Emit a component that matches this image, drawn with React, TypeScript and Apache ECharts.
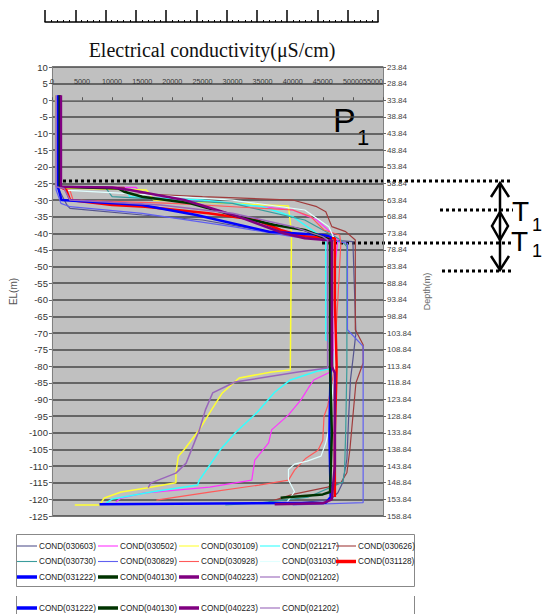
import React, { useEffect, useRef } from "react";
import * as echarts from "echarts";

// ---- data: [conductivity (µS/cm), EL (m)] ----
const cond030603 = [[900,1.5],[900,-26],[2500,-31.5],[3000,-32.5],[15000,-34.5],[25000,-36],[33000,-38.5],[40000,-40.5],[46000,-42],[50000,-42.5],[50500,-70],[50000,-78],[49600,-84],[49300,-95],[49000,-108],[48600,-112],[48300,-115],[47500,-118],[46300,-120],[40000,-121.3]];
const cond030502 = [[800,1.5],[800,-26],[14000,-26.2],[15000,-29],[30000,-31],[40000,-33],[44000,-36],[46500,-40],[47500,-42],[47000,-50],[46800,-80],[46500,-81.5],[43500,-84.1],[42600,-86.5],[41400,-90],[39300,-94.6],[36500,-99.1],[36000,-103],[33700,-108.2],[33200,-114.2],[26200,-116.3],[15200,-118.1],[11500,-119.6],[10600,-120.8]];
const cond030109 = [[600,1.6],[700,-25.5],[1600,-26.4],[15700,-27],[16900,-30],[39300,-31.8],[39800,-39.9],[39600,-81.1],[36500,-81.7],[31100,-83.5],[28300,-88],[26200,-94],[24500,-99],[22000,-105],[21000,-107],[20600,-112],[20600,-115],[15700,-116.6],[11500,-117.8],[8700,-119.6],[7900,-121.7],[3800,-121.7]];
const cond021217 = [[900,1.5],[900,-26],[12000,-26.5],[13000,-29],[25000,-30],[35000,-32],[40000,-35],[44000,-40],[45500,-42],[45500,-72],[46500,-73],[46800,-80.5],[44000,-81.5],[39500,-84.2],[37000,-87.8],[34000,-94],[30500,-99.9],[28000,-105],[24500,-114.2],[24200,-115.7],[16500,-117.8],[10000,-119.9],[9000,-121.1]];
const cond030626 = [[1100,1.5],[1100,-26],[12000,-26.2],[12500,-28],[25000,-29],[40000,-30],[44000,-32],[45500,-33.5],[46500,-38],[48800,-39.5],[50400,-42],[50400,-69],[51700,-73.5],[51700,-79],[50500,-85],[50000,-95],[49500,-105],[49000,-112],[48000,-115],[45800,-116.3],[40000,-118.5],[36000,-120.8]];
const cond030730 = [[900,1.5],[900,-26],[9000,-26.5],[10000,-29],[30000,-31],[42000,-36],[46000,-40],[48000,-42],[49000,-44],[49000,-80],[48800,-100],[48600,-112],[48300,-114.8],[42600,-119.3],[35000,-121],[28800,-121.7]];
const cond030829 = [[700,1.5],[700,-27],[1500,-31],[3000,-32],[15000,-34],[30000,-38],[40000,-41],[46000,-42],[49100,-43],[49100,-69],[51700,-74],[51700,-121],[40000,-121.7]];
const cond030928 = [[1000,1.5],[1000,-26],[3000,-27],[3500,-30],[20000,-31],[40000,-33],[43000,-35],[45200,-39],[47800,-40.5],[48000,-43],[47500,-60],[47000,-75],[46800,-82],[46300,-87],[45800,-92],[45200,-95],[45000,-102.2],[44200,-105.2],[42200,-107.6],[40300,-111.2],[39300,-114.2],[34400,-115.7],[26200,-117.8],[17350,-120.2]];
const cond031030 = [[800,1.5],[800,-26],[2000,-27],[12000,-28],[30000,-30],[42000,-33],[46000,-38],[47000,-42],[47000,-80],[46500,-90],[46000,-99],[45500,-103],[44700,-107],[42400,-108.5],[40300,-109.4],[39300,-111],[39300,-114.2],[40300,-117.7],[39000,-121]];
const cond031128 = [[1200,1.5],[1200,-26],[2400,-27],[3000,-30],[10000,-31.5],[15500,-32],[26000,-34],[34000,-36],[38000,-39],[41400,-40.8],[45500,-41.4],[47000,-41.5],[47000,-60],[47300,-80],[47000,-100],[47000,-119.3]];
const cond031222 = [[1000,1.5],[1000,-26],[1600,-30],[15000,-31.5],[16500,-32],[24000,-34.5],[36000,-39.5],[45000,-40.5],[46300,-41],[46300,-80],[46100,-100],[46300,-119.3],[45500,-121],[7900,-121.5]];
const cond040130 = [[1300,1.5],[1300,-26],[11000,-26.5],[12000,-27.5],[15000,-29],[23000,-31],[31000,-35],[37000,-37.5],[42000,-39],[45500,-41.5],[46200,-42],[46200,-80],[46500,-100],[46200,-117.8],[45000,-118.5],[38000,-119.5]];
const cond040223 = [[1500,1.5],[1500,-26],[10000,-26.2],[13000,-27],[22000,-30],[31000,-35],[38500,-40],[42000,-41.5],[46500,-42.2],[46500,-80],[47000,-82],[47000,-110],[46500,-120],[45000,-121.2],[37000,-121.5]];
const cond021202 = [[700,1.5],[700,-26],[2000,-26.5],[3000,-30],[18000,-31.5],[30000,-34],[40000,-38],[45000,-41],[45800,-42],[45800,-80.5],[40900,-81.7],[30400,-84.7],[26700,-88],[25500,-93.1],[24500,-99.1],[22300,-109.1],[20600,-112.1],[16400,-115.1],[16000,-116.5]];

const seriesNames = ["COND(030603)","COND(030502)","COND(030109)","COND(021217)","COND(030626)","COND(030730)","COND(030829)","COND(030928)","COND(031030)","COND(031128)","COND(031222)","COND(040130)","COND(040223)","COND(021202)"];
const seriesData = [cond030603,cond030502,cond030109,cond021217,cond030626,cond030730,cond030829,cond030928,cond031030,cond031128,cond031222,cond040130,cond040223,cond021202];
const seriesColors = ["#55558f","#ff33ff","#ffff33","#33ffff","#a03c3c","#3a9c9c","#6060f0","#ff5a5a","#e0ffff","#ff0000","#0000ff","#003300","#800080","#9966bb"];
const seriesWidths = [1.2,1.2,1.5,1.5,1.2,1.2,1.2,1.2,1.2,2.5,2.5,2.5,2.5,1.5];

const xMin = 0, xMax = 55000, xStep = 5000;
const elMin = -125, elMax = 10, elStep = 5;
const depthOffset = 33.84;

const sans = "'Liberation Sans', Arial, sans-serif";
const legendCols = [17, 98, 179, 260, 336];
const thinIcon = "path://M0,0L0,0M0,1.2L20,1.2L20,2.3L0,2.3ZM0,3.5L0,3.5";
const thickIcon = "path://M0,0L20,0L20,3.5L0,3.5Z";

export default function App() {
  const ref = useRef<HTMLDivElement>(null);
  useEffect(() => {
    const chart = echarts.init(ref.current!, null, { renderer: "svg" });
    const dot = { stroke: "#000", lineWidth: 3, lineDash: [3, 3] };
    const solid = { stroke: "#000", lineWidth: 2.5, fill: "none" };
    const item = (i: number) => ({ name: seriesNames[i], icon: seriesWidths[i] > 2 ? thickIcon : thinIcon });
    const legendBase = {
      orient: "vertical", itemWidth: 20, itemHeight: 3.5, itemGap: 3.5, padding: 0,
      borderWidth: 0, selectedMode: false,
      textStyle: { fontSize: 8.2, lineHeight: 12, color: "#222", fontFamily: sans, padding: [0, 0, 0, -3] },
    };
    const legends: any[] = legendCols.map((x, c) => ({
      ...legendBase, left: x, top: 540,
      data: [c, c + 5, c + 10].filter((i) => i < seriesNames.length).map(item),
    }));
    legendCols.slice(0, 4).forEach((x, c) => {
      legends.push({ ...legendBase, left: x, top: 602, data: [item(c + 10)] });
    });
    chart.setOption({
      animation: false,
      backgroundColor: "#fff",
      grid: [
        { left: 47, top: 67, width: 336, height: 449, show: true, backgroundColor: "#c0c0c0", borderWidth: 0 },
        { left: 45, top: 8, width: 333, height: 14, show: false },
      ],
      xAxis: [
        {
          gridIndex: 0, type: "value", position: "top", min: xMin, max: xMax, interval: xStep,
          axisLine: { show: true, lineStyle: { color: "#808080" } },
          axisTick: { show: true, length: 3, lineStyle: { color: "#555" } },
          axisLabel: { inside: true, margin: 11, fontSize: 7.2, color: "#333", fontFamily: sans,
            showMaxLabel: true, showMinLabel: true, hideOverlap: false, alignMaxLabel: "right",
            formatter: (v: number) => String(v) },
          splitLine: { show: false },
        },
        {
          gridIndex: 1, type: "value", position: "bottom", min: xMin, max: xMax, interval: xStep,
          axisLine: { show: true, lineStyle: { color: "#000", width: 1.5 } },
          axisTick: { show: true, inside: true, length: 12, lineStyle: { color: "#000", width: 1.5 } },
          minorTick: { show: true, splitNumber: 5, length: 2, lineStyle: { color: "#000" } },
          axisLabel: { show: false },
          splitLine: { show: false },
        },
      ],
      yAxis: [
        {
          gridIndex: 0, type: "value", position: "left", min: elMin, max: elMax, interval: elStep,
          axisLine: { show: true, lineStyle: { color: "#808080" } },
          axisTick: { show: true, length: 3, lineStyle: { color: "#666" } },
          axisLabel: { fontSize: 9.5, color: "#333", margin: 4, fontFamily: sans },
          splitLine: { show: true, lineStyle: { color: "#474747", width: 1.5 } },
          name: "EL(m)", nameLocation: "middle", nameGap: 33, nameRotate: 90,
          nameTextStyle: { fontSize: 10, color: "#555", fontFamily: sans },
        },
        {
          gridIndex: 0, type: "value", position: "right", min: elMin, max: elMax, interval: elStep,
          axisLine: { show: true, lineStyle: { color: "#808080" } },
          axisTick: { show: true, length: 3, lineStyle: { color: "#666" } },
          axisLabel: { fontSize: 8, color: "#444", margin: 4, fontFamily: sans,
            formatter: (v: number) => (depthOffset - v).toFixed(2) },
          splitLine: { show: false },
          name: "Depth(m)", nameLocation: "middle", nameGap: 33, nameRotate: 90,
          nameTextStyle: { fontSize: 9, color: "#666", fontFamily: sans },
        },
        { gridIndex: 1, type: "value", show: false, min: 0, max: 1 },
      ],
      legend: legends,
      series: seriesNames.map((name, i) => ({
        name, type: "line", xAxisIndex: 0, yAxisIndex: 0, data: seriesData[i],
        symbol: "none", showSymbol: false,
        lineStyle: { color: seriesColors[i], width: seriesWidths[i] },
        itemStyle: { color: seriesColors[i] },
        emphasis: { disabled: true },
      })),
      graphic: [
        { type: "text", x: 212, y: 50, style: { text: "Electrical conductivity(μS/cm)", fontSize: 20, fontFamily: "'Liberation Serif', 'DejaVu Serif', serif", fill: "#111", textAlign: "center", textVerticalAlign: "middle" } },
        { type: "text", x: 333, y: 120, style: { text: "P", fontSize: 34, fontFamily: sans, fill: "#000", textVerticalAlign: "middle" } },
        { type: "text", x: 357, y: 137, style: { text: "1", fontSize: 22, fontFamily: sans, fill: "#000", textVerticalAlign: "middle" } },
        { type: "line", shape: { x1: 57, y1: 181, x2: 513, y2: 181 }, style: dot },
        { type: "line", shape: { x1: 322, y1: 243, x2: 511, y2: 243 }, style: dot },
        { type: "line", shape: { x1: 440, y1: 210, x2: 513, y2: 210 }, style: dot },
        { type: "line", shape: { x1: 442, y1: 271, x2: 513, y2: 271 }, style: dot },
        { type: "line", shape: { x1: 500, y1: 183, x2: 500, y2: 270 }, style: solid },
        { type: "polyline", shape: { points: [[491, 197], [500, 183], [509, 197]] }, style: solid },
        { type: "polyline", shape: { points: [[491, 256], [500, 270], [509, 256]] }, style: solid },
        { type: "polygon", shape: { points: [[500, 212], [508, 226], [500, 240], [492, 226]] }, style: solid },
        { type: "text", x: 512, y: 211, style: { text: "T", fontSize: 28, fontFamily: sans, fill: "#000", textVerticalAlign: "middle" } },
        { type: "text", x: 532, y: 225, style: { text: "1", fontSize: 18, fontFamily: sans, fill: "#000", textVerticalAlign: "middle" } },
        { type: "text", x: 511, y: 241, style: { text: "T", fontSize: 28, fontFamily: sans, fill: "#000", textVerticalAlign: "middle" } },
        { type: "text", x: 532, y: 251, style: { text: "1", fontSize: 18, fontFamily: sans, fill: "#000", textVerticalAlign: "middle" } },
        { type: "rect", shape: { x: 16.5, y: 534.5, width: 398, height: 52 }, style: { stroke: "#888", lineWidth: 1, fill: "none" } },
        { type: "line", shape: { x1: 16.5, y1: 596, x2: 16.5, y2: 614 }, style: { stroke: "#888", lineWidth: 1 } },
        { type: "line", shape: { x1: 414.5, y1: 596, x2: 414.5, y2: 614 }, style: { stroke: "#888", lineWidth: 1 } },
      ],
    });
    return () => chart.dispose();
  }, []);
  return <div ref={ref} style={{ position: "fixed", left: 0, top: 0, width: 545, height: 614, background: "#fff" }} />;
}
